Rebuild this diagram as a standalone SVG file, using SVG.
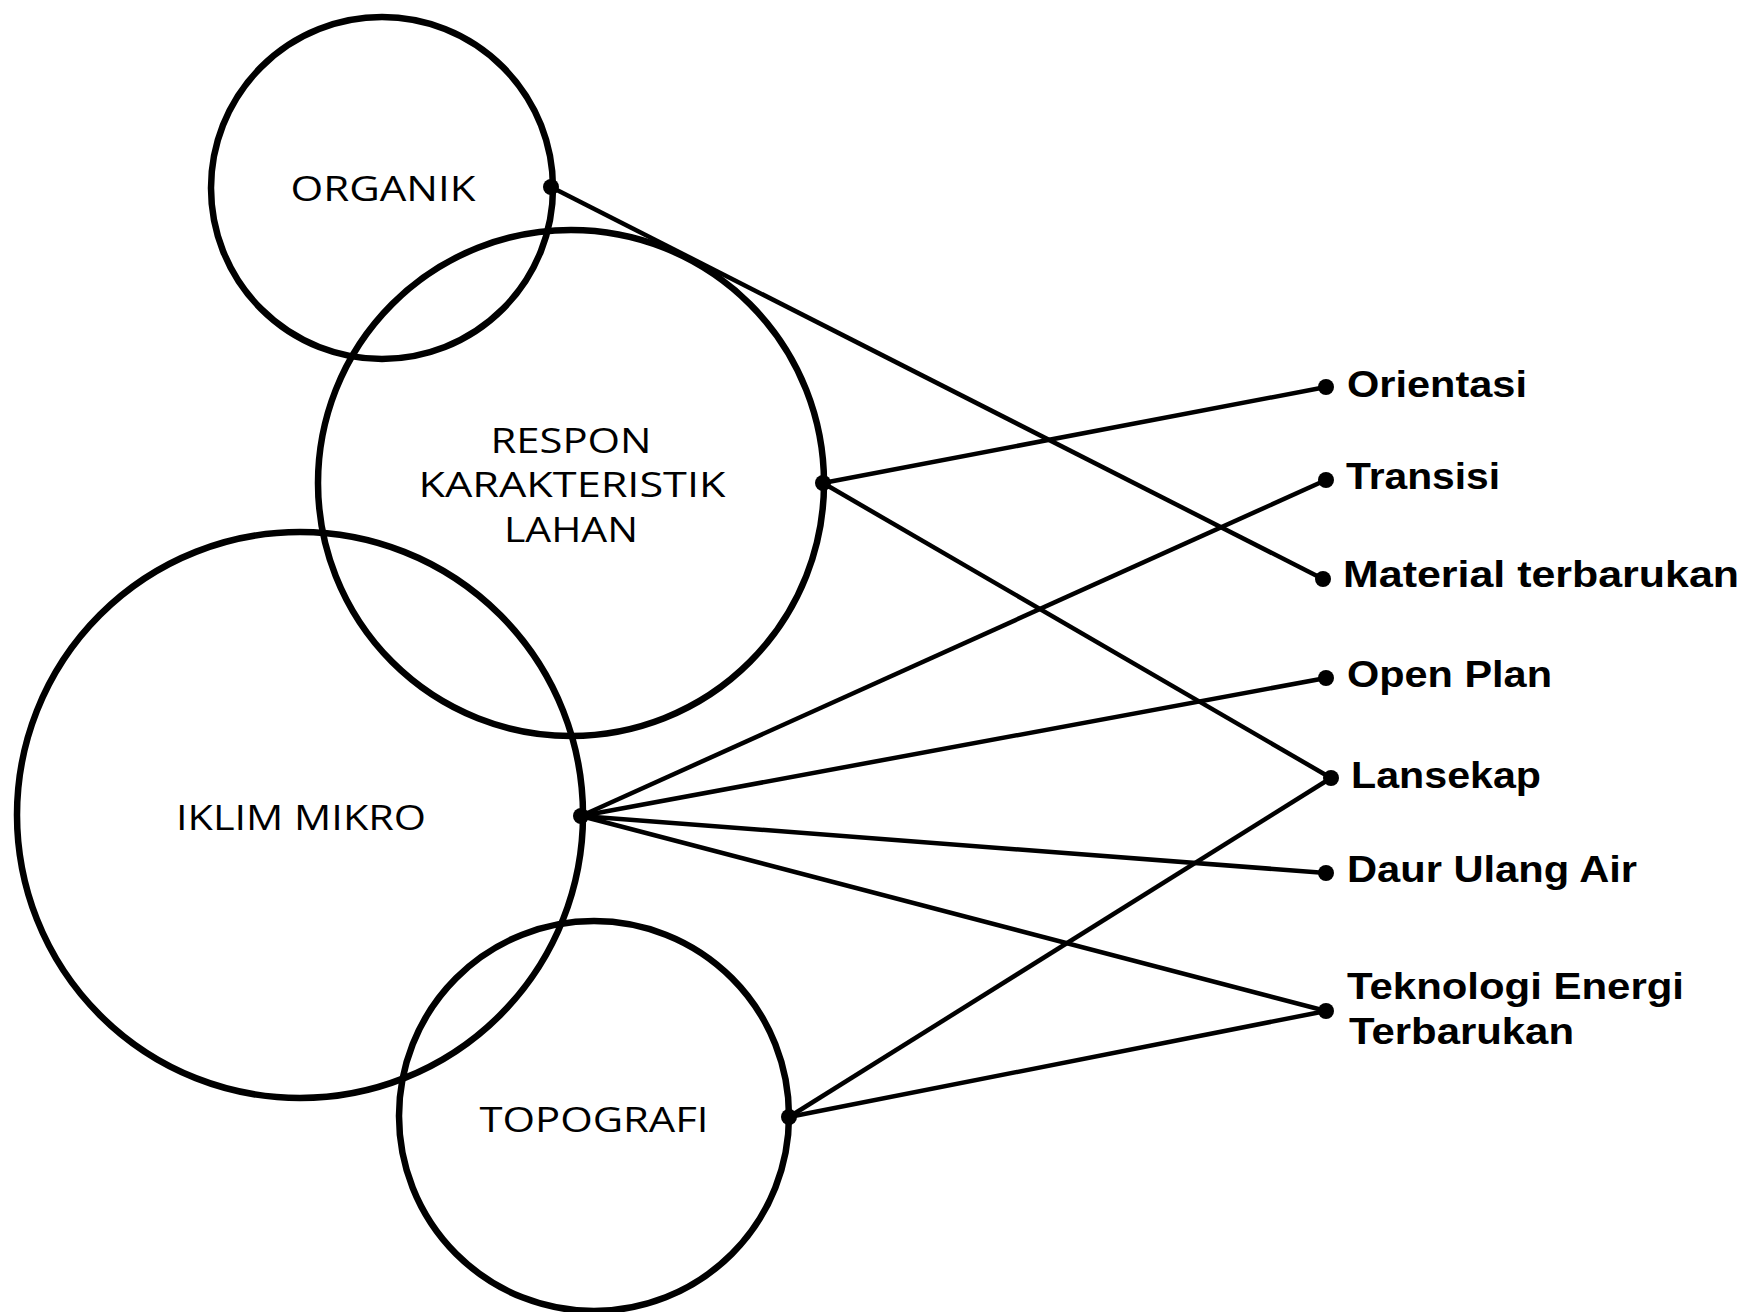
<svg xmlns="http://www.w3.org/2000/svg" width="1753" height="1312" viewBox="0 0 1753 1312">
<style>
.c{fill:none;stroke:#000;stroke-width:6.5}
.l{stroke:#000;stroke-width:4.5;fill:none}
.d{fill:#000}
.t{font-family:"Open Sans","Liberation Sans",Arial,sans-serif;font-size:35px;font-weight:500;fill:#000;text-anchor:middle}
.b{font-family:"Liberation Sans",Arial,sans-serif;font-size:36px;font-weight:700;fill:#000}
</style>
<rect width="1753" height="1312" fill="#fff"/>
<g id="connectors">
<line class="l" x1="551" y1="187" x2="1323" y2="579"/>
<line class="l" x1="823" y1="483" x2="1326" y2="387"/>
<line class="l" x1="823" y1="483" x2="1331" y2="778"/>
<line class="l" x1="581" y1="816" x2="1326" y2="480"/>
<line class="l" x1="581" y1="816" x2="1326" y2="678"/>
<line class="l" x1="581" y1="816" x2="1326" y2="873"/>
<line class="l" x1="581" y1="816" x2="1326" y2="1011"/>
<line class="l" x1="789" y1="1117" x2="1331" y2="778"/>
<line class="l" x1="789" y1="1117" x2="1326" y2="1011"/>
</g>
<g id="organik">
<circle class="c" cx="382" cy="188" r="171"/>
<text class="t" x="383" y="201" textLength="185" lengthAdjust="spacingAndGlyphs">ORGANIK</text>
<circle class="d" cx="551" cy="187" r="8"/>
</g>
<g id="respon">
<circle class="c" cx="571" cy="483" r="253"/>
<text class="t" x="571" y="453" textLength="161" lengthAdjust="spacingAndGlyphs">RESPON</text>
<text class="t" x="572" y="497" textLength="307" lengthAdjust="spacingAndGlyphs">KARAKTERISTIK</text>
<text class="t" x="571" y="542" textLength="134" lengthAdjust="spacingAndGlyphs">LAHAN</text>
<circle class="d" cx="823" cy="483" r="8"/>
</g>
<g id="iklim">
<circle class="c" cx="300" cy="815" r="283"/>
<text class="t" x="301" y="830" textLength="250" lengthAdjust="spacingAndGlyphs">IKLIM MIKRO</text>
<circle class="d" cx="581" cy="816" r="8"/>
</g>
<g id="topografi">
<circle class="c" cx="594" cy="1116" r="195"/>
<text class="t" x="594" y="1132" textLength="229" lengthAdjust="spacingAndGlyphs">TOPOGRAFI</text>
<circle class="d" cx="789" cy="1117" r="8"/>
</g>
<g id="orientasi"><circle class="d" cx="1326" cy="387" r="8"/><text class="b" x="1347" y="397" textLength="180" lengthAdjust="spacingAndGlyphs">Orientasi</text></g>
<g id="transisi"><circle class="d" cx="1326" cy="480" r="8"/><text class="b" x="1346" y="489" textLength="154" lengthAdjust="spacingAndGlyphs">Transisi</text></g>
<g id="material"><circle class="d" cx="1323" cy="579" r="8"/><text class="b" x="1343" y="587" textLength="396" lengthAdjust="spacingAndGlyphs">Material terbarukan</text></g>
<g id="openplan"><circle class="d" cx="1326" cy="678" r="8"/><text class="b" x="1347" y="687" textLength="205" lengthAdjust="spacingAndGlyphs">Open Plan</text></g>
<g id="lansekap"><circle class="d" cx="1331" cy="778" r="8"/><text class="b" x="1351" y="788" textLength="190" lengthAdjust="spacingAndGlyphs">Lansekap</text></g>
<g id="daur"><circle class="d" cx="1326" cy="873" r="8"/><text class="b" x="1347" y="882" textLength="290" lengthAdjust="spacingAndGlyphs">Daur Ulang Air</text></g>
<g id="teknologi"><circle class="d" cx="1326" cy="1011" r="8"/><text class="b" x="1347" y="999" textLength="337" lengthAdjust="spacingAndGlyphs">Teknologi Energi</text><text class="b" x="1349" y="1044" textLength="225" lengthAdjust="spacingAndGlyphs">Terbarukan</text></g>
</svg>
